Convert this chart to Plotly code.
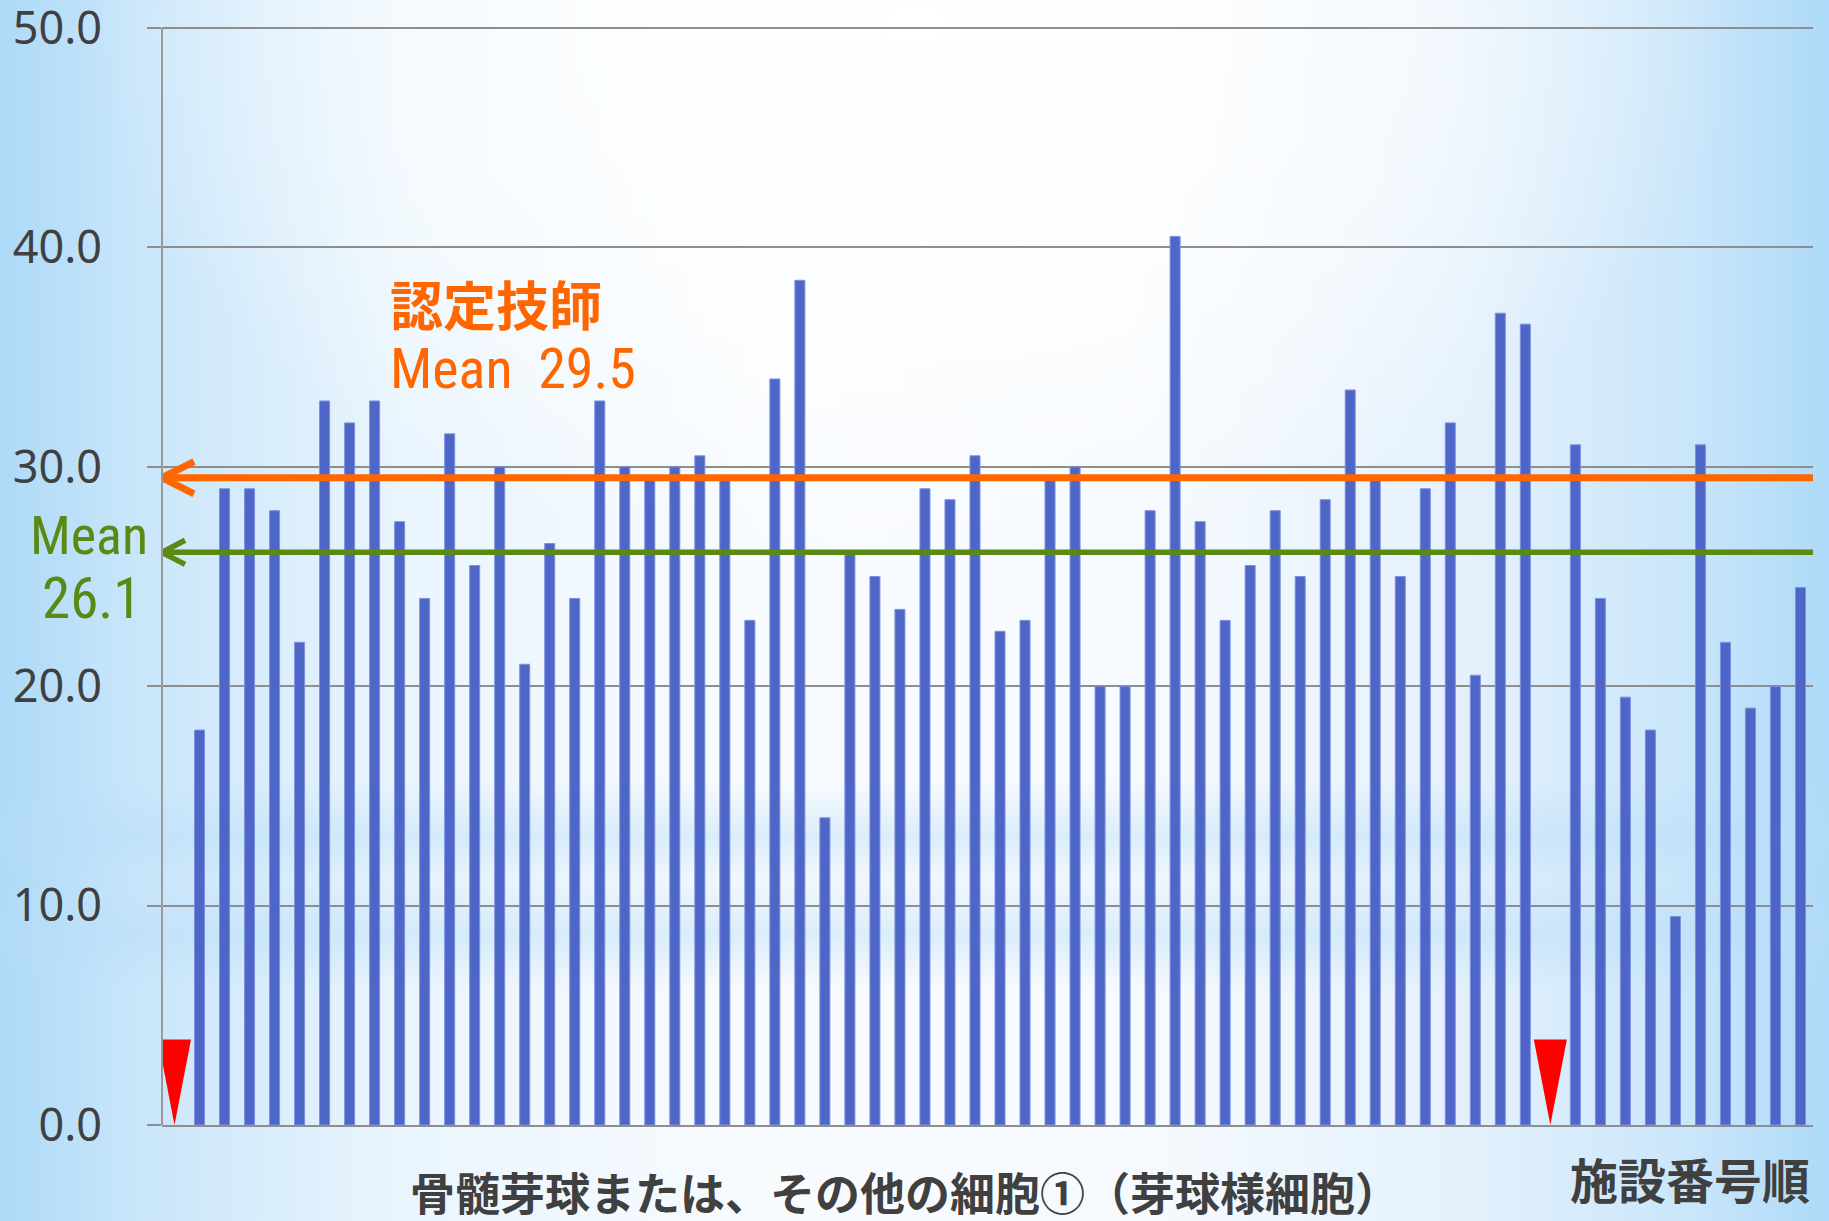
import base64
import plotly.graph_objects as go

# Facility-by-facility percentage of blast / other cell ① (blast-like cells)
facility = list(range(1, 67))
values = [None, 18.0, 29.0, 29.0, 28.0, 22.0, 33.0, 32.0, 33.0, 27.5,
          24.0, 31.5, 25.5, 30.0, 21.0, 26.5, 24.0, 33.0, 30.0, 29.5,
          30.0, 30.5, 29.5, 23.0, 34.0, 38.5, 14.0, 26.0, 25.0, 23.5,
          29.0, 28.5, 30.5, 22.5, 23.0, 29.5, 30.0, 20.0, 20.0, 28.0,
          40.5, 27.5, 23.0, 25.5, 28.0, 25.0, 28.5, 33.5, 29.5, 25.0,
          29.0, 32.0, 20.5, 37.0, 36.5, None, 31.0, 24.0, 19.5, 18.0,
          9.5, 31.0, 22.0, 19.0, 20.0, 24.5]
marked_facilities = [1, 56]          # facilities flagged with a red marker
certified_mean = 29.5                # 認定技師 mean
overall_mean = 26.1                  # all-participant mean
y_ticks = [0, 10, 20, 30, 40, 50]
y_top = 50.5                         # a little headroom so the 50.0 grid line shows

W, H = 1829, 1221
ML, MR, MT, MB = 162, 16, 17, 96
PW, PH = W - ML - MR, H - MT - MB

ORANGE = "#ff6600"
GREEN = "#5a8a14"
BAR = "#4e66c8"
GREY_TXT = "#404040"
GRID = "#8e8e8e"
NARROW = "Liberation Sans Narrow, Arial Narrow, Roboto Condensed, Liberation Sans, sans-serif"
CJK = "Noto Sans CJK JP, Noto Sans CJK SC, sans-serif"


def px(x):
    return (x - ML) / PW


def py(y):
    return (H - MB - y) / PH


# slide-style background: blue edges fading to white, with soft horizontal bands
bg_svg = f'''<svg xmlns="http://www.w3.org/2000/svg" width="{W}" height="{H}" viewBox="0 0 {W} {H}" preserveAspectRatio="none">
<defs>
<linearGradient id="h" x1="0" y1="0" x2="1" y2="0">
<stop offset="0" stop-color="#addaf8"/>
<stop offset="0.07" stop-color="#c8e5fa"/>
<stop offset="0.22" stop-color="#eaf5fd"/>
<stop offset="0.42" stop-color="#f8fbfe"/>
<stop offset="0.62" stop-color="#f6fafe"/>
<stop offset="0.8" stop-color="#e4f1fc"/>
<stop offset="0.93" stop-color="#c8e5fa"/>
<stop offset="1" stop-color="#addaf8"/>
</linearGradient>
<radialGradient id="top" cx="0.5" cy="0.02" r="0.45">
<stop offset="0" stop-color="#ffffff" stop-opacity="1"/>
<stop offset="0.6" stop-color="#ffffff" stop-opacity="0.55"/>
<stop offset="1" stop-color="#ffffff" stop-opacity="0"/>
</radialGradient>
<linearGradient id="band" x1="0" y1="0" x2="0" y2="1">
<stop offset="0" stop-color="#b8ddf8" stop-opacity="0"/>
<stop offset="0.64" stop-color="#b8ddf8" stop-opacity="0"/>
<stop offset="0.685" stop-color="#b8ddf8" stop-opacity="0.45"/>
<stop offset="0.72" stop-color="#b8ddf8" stop-opacity="0.1"/>
<stop offset="0.766" stop-color="#b8ddf8" stop-opacity="0.45"/>
<stop offset="0.81" stop-color="#b8ddf8" stop-opacity="0"/>
<stop offset="1" stop-color="#b8ddf8" stop-opacity="0"/>
</linearGradient>
</defs>
<rect width="{W}" height="{H}" fill="url(#h)"/>
<rect width="{W}" height="{H}" fill="url(#top)"/>
<rect width="{W}" height="{H}" fill="url(#band)"/>
</svg>'''
bg_uri = "data:image/svg+xml;base64," + base64.b64encode(bg_svg.encode()).decode()

fig = go.Figure()

fig.add_trace(go.Bar(
    x=facility, y=values, width=0.4,
    marker=dict(color=BAR, line=dict(color="#7d90de", width=1)),
    hoverinfo="x+y", showlegend=False,
))

# red downward markers for the flagged facilities
tri_half, tri_height = 0.66, 3.9
for f in marked_facilities:
    fig.add_trace(go.Scatter(
        x=[f - tri_half, f + tri_half, f, f - tri_half],
        y=[tri_height, tri_height, 0, tri_height],
        fill="toself", fillcolor="#ff0000", mode="lines",
        line=dict(color="#ff0000", width=0), hoverinfo="skip", showlegend=False,
    ))


def mean_arrow(value, color, width, head_dx, head_dy):
    x0, x1 = 0.5, len(facility) + 0.5
    fig.add_trace(go.Scatter(
        x=[x0, x1], y=[value, value], mode="lines",
        line=dict(color=color, width=width), cliponaxis=False,
        hoverinfo="skip", showlegend=False,
    ))
    fig.add_trace(go.Scatter(
        x=[x0 + head_dx, x0, x0 + head_dx],
        y=[value + head_dy, value, value - head_dy], mode="lines",
        line=dict(color=color, width=width), cliponaxis=False,
        hoverinfo="skip", showlegend=False,
    ))


mean_arrow(certified_mean, ORANGE, 7, 1.28, 0.73)
mean_arrow(overall_mean, GREEN, 5.5, 0.92, 0.55)

annotations = [
    dict(text="認定技師", x=px(388), y=py(303), xanchor="left", yanchor="middle",
         font=dict(family=CJK, size=53, color=ORANGE, weight=700)),
    dict(text=f"Mean\u00a0\u00a0{certified_mean:.1f}", x=px(388), y=py(369),
         xanchor="left", yanchor="middle",
         font=dict(family=NARROW, size=56, color=ORANGE)),
    dict(text="Mean", x=px(89), y=py(535), xanchor="center", yanchor="middle",
         font=dict(family=NARROW, size=54, color=GREEN)),
    dict(text=f"{overall_mean:.1f}", x=px(91), y=py(598), xanchor="center", yanchor="middle",
         font=dict(family=NARROW, size=57, color=GREEN)),
    dict(text="骨髄芽球または、その他の細胞①（芽球様細胞）", x=px(905), y=py(1191),
         xanchor="center", yanchor="middle",
         font=dict(family=CJK, size=45, color=GREY_TXT, weight=700)),
    dict(text="施設番号順", x=px(1812), y=py(1178), xanchor="right", yanchor="middle",
         font=dict(family=CJK, size=48, color=GREY_TXT, weight=700)),
]
for a in annotations:
    a.update(xref="paper", yref="paper", showarrow=False)

# vertical value axis line, running from 0 up to the top grid line only
shapes = [dict(type="line", xref="paper", yref="y", x0=0, x1=0,
               y0=y_ticks[0], y1=y_ticks[-1], line=dict(color="#9a9a9a", width=2))]

fig.update_layout(
    width=W, height=H,
    margin=dict(l=ML, r=MR, t=MT, b=MB, autoexpand=False),
    paper_bgcolor="#ffffff", plot_bgcolor="rgba(0,0,0,0)",
    annotations=annotations, shapes=shapes,
    images=[dict(source=bg_uri, xref="paper", yref="paper",
                 x=px(0), y=py(0), sizex=W / PW, sizey=H / PH,
                 xanchor="left", yanchor="top", sizing="stretch", layer="below")],
    xaxis=dict(range=[0.5, len(facility) + 0.5], showticklabels=False, ticks="",
               showgrid=False, zeroline=False, showline=True, linecolor=GRID, linewidth=2,
               automargin=False),
    yaxis=dict(range=[0, y_top], tickvals=y_ticks, tickformat=".1f",
               ticks="outside", ticklen=14, tickwidth=2, tickcolor=GRID,
               ticklabelstandoff=36, ticklabeloverflow="allow", automargin=False,
               tickfont=dict(family="Noto Sans, Liberation Sans, sans-serif", size=45, color=GREY_TXT),
               showgrid=True, gridcolor=GRID, gridwidth=2, zeroline=False,
               showline=False),
    bargap=0.6,
)

fig.write_html("out.html")
